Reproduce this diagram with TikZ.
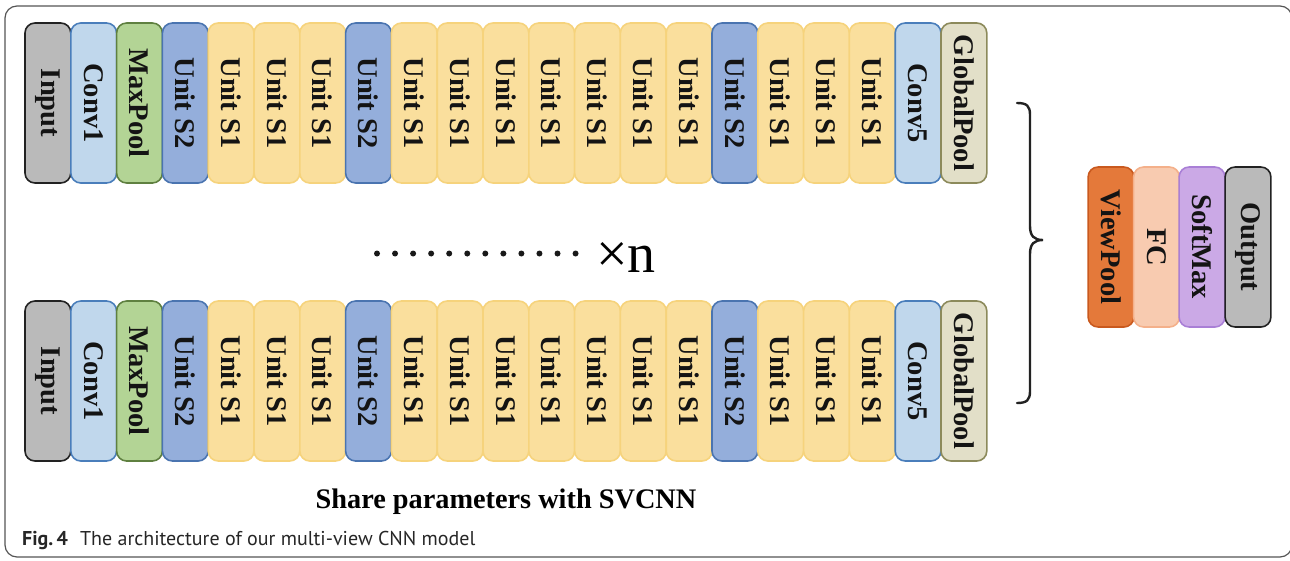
\documentclass[tikz,border=0pt]{standalone}
\usepackage{fontspec}
\setmainfont{Liberation Serif}
\newfontfamily\capfont{PT Sans}
\definecolor{cgray}{HTML}{BABABA}
\definecolor{cgrayd}{HTML}{222222}
\definecolor{lblue}{HTML}{C0D7EC}
\definecolor{lblued}{HTML}{4A7EBB}
\definecolor{cgreen}{HTML}{B3D495}
\definecolor{cgreend}{HTML}{5F8040}
\definecolor{mblue}{HTML}{94AEDB}
\definecolor{mblued}{HTML}{4A74B0}
\definecolor{cyel}{HTML}{FADF9D}
\definecolor{cyeld}{HTML}{F6D37C}
\definecolor{cbeige}{HTML}{E2DFC8}
\definecolor{cbeiged}{HTML}{8C8A5B}
\definecolor{corange}{HTML}{E4793A}
\definecolor{coranged}{HTML}{C9591E}
\definecolor{cpeach}{HTML}{F8CBB0}
\definecolor{cpeachd}{HTML}{F4B08A}
\definecolor{cviolet}{HTML}{CBA9E6}
\definecolor{cvioletd}{HTML}{A97FD6}
\definecolor{frame}{HTML}{555555}
\tikzset{
  blk/.style={draw, rounded corners=10pt, line width=1.6pt, minimum width=160pt,
    minimum height=45.8pt, rotate=-90, inner sep=0pt,
    font=\fontsize{28.5}{28.5}\selectfont\bfseries, text=black!92},
  inp/.style={blk, fill=cgray, draw=cgrayd},
  conv/.style={blk, fill=lblue, draw=lblued},
  mpool/.style={blk, fill=cgreen, draw=cgreend},
  utwo/.style={blk, fill=mblue, draw=mblued},
  uone/.style={blk, fill=cyel, draw=cyeld},
  gpool/.style={blk, fill=cbeige, draw=cbeiged},
  vpool/.style={blk, fill=corange, draw=coranged},
  fcl/.style={blk, fill=cpeach, draw=cpeachd},
  smax/.style={blk, fill=cviolet, draw=cvioletd},
}
\begin{document}
\begin{tikzpicture}[x=1pt,y=-1pt]
\useasboundingbox (0,0) rectangle (1290,560);
\draw[frame, line width=1.2pt, rounded corners=12pt] (5,6) rectangle (1292,557);
\foreach \row/\yc in {t/103, b/381}{
  \foreach \i/\st/\txt in {1/inp/Input, 2/conv/Conv1, 3/mpool/MaxPool, 4/utwo/Unit S2,
     5/uone/Unit S1, 6/uone/Unit S1, 7/uone/Unit S1, 8/utwo/Unit S2,
     9/uone/Unit S1, 10/uone/Unit S1, 11/uone/Unit S1, 12/uone/Unit S1,
     13/uone/Unit S1, 14/uone/Unit S1, 15/uone/Unit S1, 16/utwo/Unit S2,
     17/uone/Unit S1, 18/uone/Unit S1, 19/uone/Unit S1, 20/conv/Conv5, 21/gpool/GlobalPool}{
    \node[\st] (\row\i) at ({25+45.8*(\i-0.5)},\yc) {\txt};
  }
}
\node[vpool] (vp) at (1111,247) {ViewPool};
\node[fcl] (fc) at (1156.5,247) {FC};
\node[smax] (sm) at (1202,247) {SoftMax};
\node[inp] (out) at (1248,247) {Output};
% brace
\draw[line width=2.4pt, cgrayd, line cap=round]
  (1017,103) .. controls (1027,103) and (1030,106) .. (1030,115) -- (1030,226)
  .. controls (1030,236) and (1034,240) .. (1043,240)
  .. controls (1034,240) and (1030,244) .. (1030,254) -- (1030,391)
  .. controls (1030,400) and (1027,403) .. (1017,403);
% dots
\foreach \k in {0,...,11}{ \fill[black!90] ({377+18.05*\k},253.5) circle (3pt); }
\node[anchor=base west, inner sep=0pt, font=\fontsize{56}{56}\selectfont] (xn) at (596,272) {×n};
\node[anchor=base, inner sep=0pt, font=\fontsize{28.3}{28.3}\selectfont\bfseries] (share) at (506,508) {Share parameters with SVCNN};
\node[anchor=base west, inner sep=0pt, font=\capfont\fontsize{20}{20}\selectfont, text=black!85] (cap) at (22,545)
  {\textbf{Fig.\,4}\hspace{0.6em}The architecture of our multi-view CNN model};
\end{tikzpicture}
\end{document}
